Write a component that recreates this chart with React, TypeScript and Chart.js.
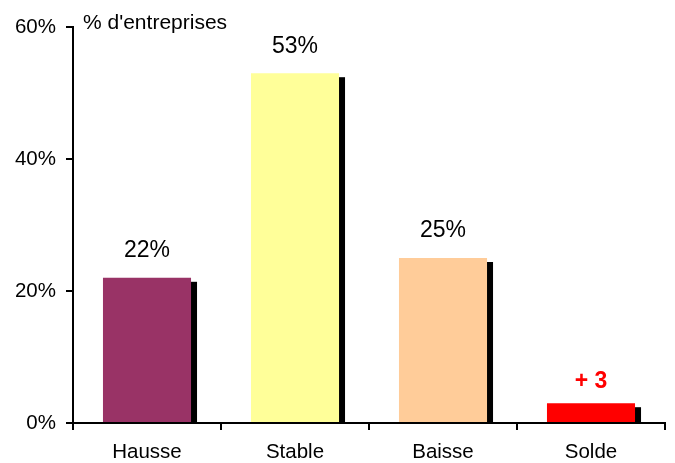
import React, { useEffect, useRef } from "react";
import { Chart, registerables } from "chart.js";

Chart.register(...registerables);

const categories = ["Hausse", "Stable", "Baisse", "Solde"];
const values = [22, 53, 25, 3];
const valueLabels = ["22%", "53%", "25%", "+ 3"];
const barColors = ["#993366", "#FFFF99", "#FFCC99", "#FF0000"];
const yTicks = [0, 20, 40, 60];
const yTitle = "% d'entreprises";

const FONT = "'Liberation Sans', Arial, Helvetica, sans-serif";

const shadowPlugin = {
  id: "shadow",
  beforeDatasetsDraw(chart: any) {
    const ctx = chart.ctx;
    const meta = chart.getDatasetMeta(0);
    const bottom = chart.scales.y.getPixelForValue(0);
    ctx.save();
    ctx.fillStyle = "#000";
    meta.data.forEach((bar: any) => {
      const left = bar.x - bar.width / 2 + 6;
      const top = bar.y + 4;
      ctx.fillRect(left, top, bar.width, bottom - top);
    });
    ctx.restore();
  },
};

const labelPlugin = {
  id: "labels",
  afterDatasetsDraw(chart: any) {
    const ctx = chart.ctx;
    const meta = chart.getDatasetMeta(0);
    ctx.save();
    ctx.textAlign = "center";
    ctx.textBaseline = "middle";
    meta.data.forEach((bar: any, i: number) => {
      const isSolde = i === 3;
      ctx.font = (isSolde ? "bold " : "") + "23px " + FONT;
      ctx.fillStyle = isSolde ? "#FF0000" : "#000";
      ctx.fillText(valueLabels[i], bar.x, bar.y - (isSolde ? 22 : 27));
    });
    // axis title
    ctx.textAlign = "left";
    ctx.font = "21px " + FONT;
    ctx.fillStyle = "#000";
    ctx.fillText(yTitle, 83, chart.scales.y.getPixelForValue(60) - 4);
    ctx.restore();
  },
};

export default function App() {
  const ref = useRef<HTMLCanvasElement>(null);
  useEffect(() => {
    document.body.style.margin = "0";
    const chart = new Chart(ref.current!, {
      type: "bar",
      data: {
        labels: categories,
        datasets: [
          {
            data: values,
            backgroundColor: barColors,
            borderWidth: 0,
            categoryPercentage: 1,
            barPercentage: 0.595,
          },
        ],
      },
      options: {
        animation: false,
        responsive: false,
        layout: { padding: { top: 27, right: 10, left: 0, bottom: 0 } },
        plugins: { legend: { display: false }, tooltip: { enabled: false } },
        scales: {
          x: {
            grid: {
              display: true,
              drawOnChartArea: false,
              offset: true,
              tickLength: 7,
              color: "#000",
              lineWidth: 2,
            },
            border: { display: true, color: "#000", width: 2 },
            ticks: { color: "#000", font: { family: FONT, size: 20.5 }, padding: 10 },
            afterFit: (s: any) => {
              s.height = 40;
            },
          },
          y: {
            min: 0,
            max: 60,
            afterBuildTicks: (s: any) => {
              s.ticks = yTicks.map((v) => ({ value: v }));
            },
            grid: {
              display: true,
              drawOnChartArea: false,
              tickLength: 7,
              color: "#000",
              lineWidth: 2,
            },
            border: { display: true, color: "#000", width: 2 },
            ticks: {
              color: "#000",
              font: { family: FONT, size: 20.5 },
              padding: 10,
              callback: (v: any) => v + "%",
            },
            afterFit: (s: any) => {
              s.width = 73;
            },
          },
        },
      },
      plugins: [shadowPlugin, labelPlugin],
    });
    return () => chart.destroy();
  }, []);
  return (
    <div style={{ width: 675, height: 463, background: "#fff" }}>
      <canvas ref={ref} width={675} height={463} />
    </div>
  );
}
